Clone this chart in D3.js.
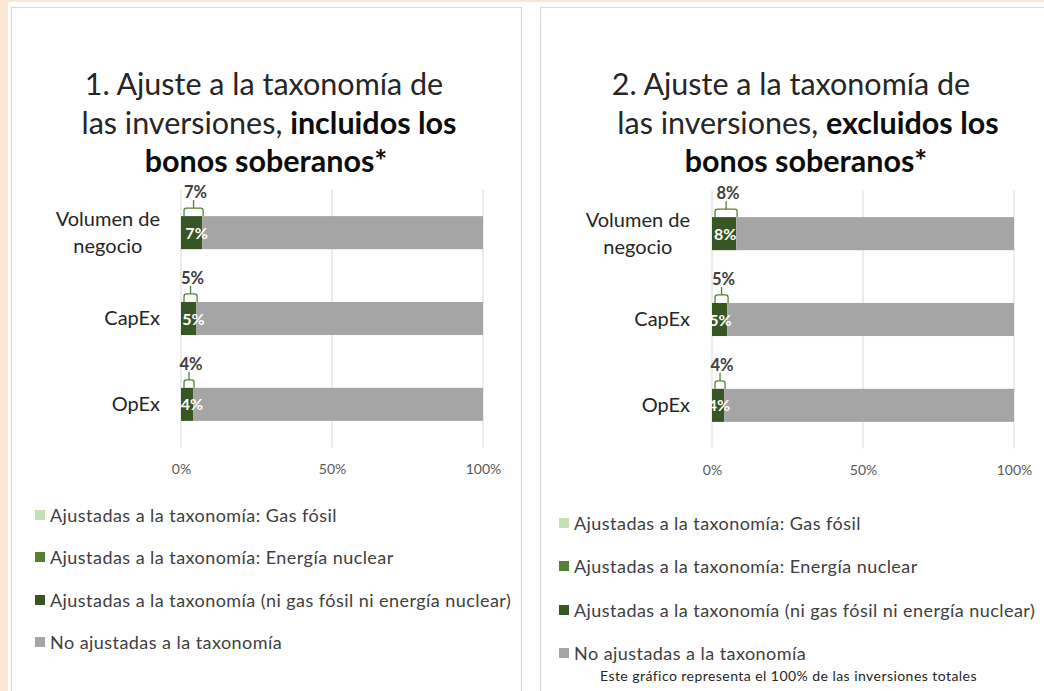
<!DOCTYPE html>
<html>
<head>
<meta charset="utf-8">
<script src="https://cdn.jsdelivr.net/npm/d3@7"></script>
<style>
  html, body { margin: 0; padding: 0; background: #fbe6d4; }
  svg { display: block; }
</style>
</head>
<body>
<svg id="chart" width="1044" height="691"></svg>
<script>
// ---------- DATA ----------
const categories = ["Volumen de negocio", "CapEx", "OpEx"];
const seriesNames = [
  "Ajustadas a la taxonomía (ni gas fósil ni energía nuclear)",
  "Ajustadas a la taxonomía: Energía nuclear",
  "Ajustadas a la taxonomía: Gas fósil",
  "No ajustadas a la taxonomía"
];
const legendOrder = [
  "Ajustadas a la taxonomía: Gas fósil",
  "Ajustadas a la taxonomía: Energía nuclear",
  "Ajustadas a la taxonomía (ni gas fósil ni energía nuclear)",
  "No ajustadas a la taxonomía"
];
// Chart 1: including sovereign bonds
const c1Aligned   = [7, 5, 4];
const c1Nuclear   = [0, 0, 0];
const c1Gas       = [0, 0, 0];
const c1NotAligned = [93, 95, 96];
// Chart 2: excluding sovereign bonds
const c2Aligned   = [8, 5, 4];
const c2Nuclear   = [0, 0, 0];
const c2Gas       = [0, 0, 0];
const c2NotAligned = [92, 95, 96];
const xTicks = [0, 50, 100];
const noteText = "Este gráfico representa el 100% de las inversiones totales";

// ---------- STYLE ----------
const colors = {
  "Ajustadas a la taxonomía (ni gas fósil ni energía nuclear)": "#375623",
  "Ajustadas a la taxonomía: Energía nuclear": "#548235",
  "Ajustadas a la taxonomía: Gas fósil": "#c5e0b4",
  "No ajustadas a la taxonomía": "#a5a5a5"
};
const FONT = "Lato, 'Open Sans', sans-serif";

const svg = d3.select("#chart");
// white work area
svg.append("rect").attr("x", 8).attr("y", 2).attr("width", 1036).attr("height", 689).attr("fill", "#ffffff");

function drawPanel(cfg) {
  const g = svg.append("g");
  // panel frame
  g.append("rect")
    .attr("x", cfg.frame[0] + 0.5).attr("y", 7.5)
    .attr("width", cfg.frame[1] - cfg.frame[0]).attr("height", 700)
    .attr("fill", "#ffffff").attr("stroke", "#d9d9d9").attr("stroke-width", 1.2);

  // title
  const t = g.append("text").attr("text-anchor", "middle")
    .attr("font-family", FONT).attr("font-size", 30.5).attr("fill", "#262626");
  t.append("tspan").attr("x", cfg.titleX[0]).attr("y", 95).text(cfg.title[0]);
  const l2 = t.append("tspan").attr("x", cfg.titleX[1]).attr("y", 134);
  l2.append("tspan").text(cfg.title[1]);
  l2.append("tspan").attr("font-weight", "bold").attr("fill", "#0d0d0d").text(cfg.title[2]);
  t.append("tspan").attr("x", cfg.titleX[2]).attr("y", 172).attr("font-weight", "bold").attr("fill", "#0d0d0d").text(cfg.title[3]);

  const x = d3.scaleLinear().domain([0, 100]).range([cfg.x0, cfg.x0 + 302]);
  const y = d3.scaleBand().domain(categories).range([cfg.yTop, cfg.yTop + 258]).paddingInner(0.615).paddingOuter(0.31);

  // gridlines
  g.append("g").selectAll("line").data(xTicks).join("line")
    .attr("x1", d => x(d)).attr("x2", d => x(d))
    .attr("y1", cfg.yTop).attr("y2", cfg.yTop + 258)
    .attr("stroke", "#d9d9d9").attr("stroke-width", 1);

  // x axis
  const xa = g.append("g").attr("transform", `translate(0,${cfg.yTop + 258})`)
    .call(d3.axisBottom(x).tickValues(xTicks).tickFormat(d => d + "%").tickSize(0).tickPadding(17));
  xa.select(".domain").remove();
  xa.selectAll("text").attr("font-family", FONT).attr("font-size", 14).attr("fill", "#595959");

  // y axis labels (wrapped; block right-aligned, lines centred within block)
  const catLines = {"Volumen de negocio": ["Volumen de", "negocio"], "CapEx": ["CapEx"], "OpEx": ["OpEx"]};
  categories.forEach(c => {
    const lines = catLines[c];
    const cy = y(c) + y.bandwidth() / 2;
    const tt = g.append("text").attr("text-anchor", "middle")
      .attr("font-family", FONT).attr("font-size", 20).attr("fill", "#262626");
    const spans = lines.map((ln, i) => tt.append("tspan")
        .attr("y", cy + 6.5 + (i - (lines.length - 1) / 2) * 27).text(ln));
    const maxW = d3.max(spans, s => s.node().getComputedTextLength());
    spans.forEach(s => s.attr("x", cfg.catRight - maxW / 2));
  });

  // stacked data
  const rows = categories.map((c, i) => ({
    cat: c,
    [seriesNames[0]]: cfg.aligned[i],
    [seriesNames[1]]: cfg.nuclear[i],
    [seriesNames[2]]: cfg.gas[i],
    [seriesNames[3]]: cfg.notAligned[i]
  }));
  const stack = d3.stack().keys(seriesNames)(rows);
  g.append("g").selectAll("g").data(stack).join("g")
    .attr("fill", d => colors[d.key])
    .selectAll("rect").data(d => d).join("rect")
    .attr("x", d => x(d[0]))
    .attr("y", d => y(d.data.cat))
    .attr("width", d => Math.max(0, x(d[1]) - x(d[0])))
    .attr("height", y.bandwidth());

  // inner labels (aligned segment)
  g.append("g").selectAll("text").data(stack[0]).join("text")
    .attr("x", d => (x(d[0]) + x(d[1])) / 2 + cfg.labelDx)
    .attr("y", d => y(d.data.cat) + y.bandwidth() / 2 + 6)
    .attr("text-anchor", "middle")
    .attr("font-family", FONT).attr("font-size", 16).attr("font-weight", "bold")
    .attr("fill", "#ffffff")
    .text(d => (d[1] - d[0]) + "%");

  // callouts above (total aligned)
  const totals = categories.map((c, i) => ({cat: c, v: cfg.aligned[i] + cfg.nuclear[i] + cfg.gas[i]}));
  const cg = g.append("g");
  totals.forEach(d => {
    const top = y(d.cat);
    const xl = x(0) + 3, xr = x(d.v) + 1;
    const xm = (xl + xr) / 2;
    const hb = top - 8;
    const r = 2.5;
    const p = d3.path();
    p.moveTo(xl, top);
    p.lineTo(xl, hb + r);
    p.quadraticCurveTo(xl, hb, xl + r, hb);
    p.lineTo(xr - r, hb);
    p.quadraticCurveTo(xr, hb, xr, hb + r);
    p.lineTo(xr, top);
    p.moveTo(xm, hb);
    p.lineTo(xm, hb - 8);
    cg.append("path").attr("d", p.toString()).attr("fill", "none")
      .attr("stroke", "#548235").attr("stroke-width", 1.3);
    cg.append("text").attr("x", xm + 2).attr("y", hb - 10)
      .attr("text-anchor", "middle")
      .attr("font-family", FONT).attr("font-size", 16.5).attr("font-weight", "bold")
      .attr("fill", "#404040").text(d.v + "%");
  });

  // legend
  const lg = g.append("g");
  legendOrder.forEach((name, i) => {
    const ly = cfg.legendY[i];
    lg.append("rect").attr("x", cfg.legendX).attr("y", ly - 5).attr("width", 10).attr("height", 10)
      .attr("fill", colors[name]);
    lg.append("text").attr("x", cfg.legendX + 15).attr("y", ly + 6.5)
      .attr("font-family", FONT).attr("font-size", 18).attr("letter-spacing", 0.45)
      .attr("fill", "#404040").text(name);
  });
  if (cfg.note) {
    g.append("text").attr("x", cfg.noteX).attr("y", cfg.noteY)
      .attr("font-family", FONT).attr("font-size", 14).attr("letter-spacing", 0.45)
      .attr("fill", "#262626").text(cfg.note);
  }
}

drawPanel({
  frame: [11, 521],
  title: ["1. Ajuste a la taxonomía de", "las inversiones, ", "incluidos los", "bonos soberanos*"],
  titleX: [264, 269, 266],
  x0: 181, yTop: 189.5, catRight: 160, labelDx: 5,
  aligned: c1Aligned, nuclear: c1Nuclear, gas: c1Gas, notAligned: c1NotAligned,
  legendX: 35, legendY: [515, 557, 600, 642]
});
drawPanel({
  frame: [540, 1060],
  title: ["2. Ajuste a la taxonomía de", "las inversiones, ", "excluidos los", "bonos soberanos*"],
  titleX: [791, 808, 806],
  x0: 712, yTop: 190.5, catRight: 690, labelDx: 1,
  aligned: c2Aligned, nuclear: c2Nuclear, gas: c2Gas, notAligned: c2NotAligned,
  legendX: 559, legendY: [523, 566, 610, 653],
  note: noteText, noteX: 600, noteY: 681
});
</script>
</body>
</html>
